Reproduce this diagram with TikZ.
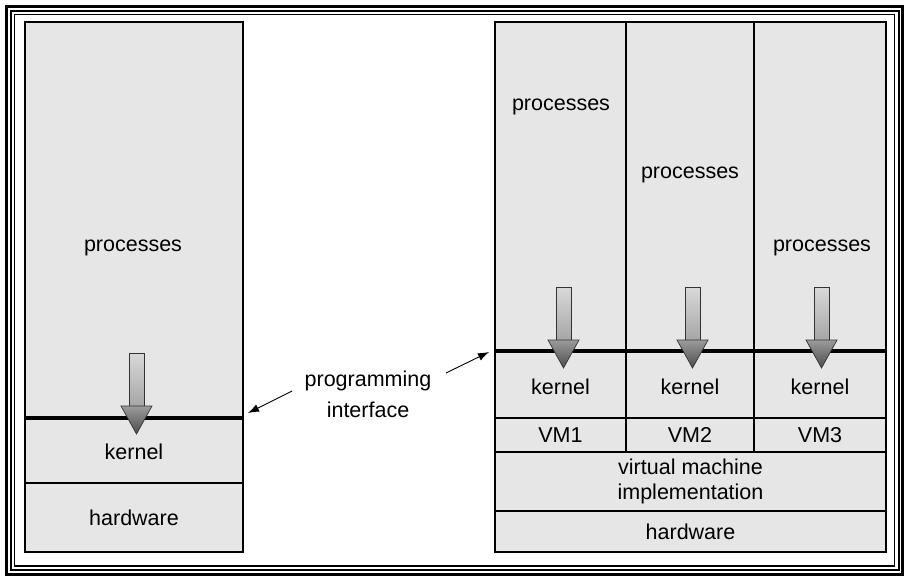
\documentclass[tikz,border=0pt]{standalone}
\usepackage{fontspec}
\setmainfont{Liberation Sans}
\usetikzlibrary{arrows.meta}
\tikzset{
  layer/.style={draw=black, line width=1.6pt, fill=boxgray, inner sep=0pt, outer sep=0pt, anchor=north west},
  lbl/.style={font=\fontsize{21.5}{31}\selectfont, align=center, inner sep=0pt},
  tightlbl/.style={lbl, font=\fontsize{21.5}{24.5}\selectfont},
  sepline/.style={line width=4pt, black},
  thin/.style={line width=0.9pt, -{Latex[length=11pt,width=8pt]}},
  bigarrow/.pic={
    \shade[top color=gray!30, bottom color=gray!70, draw=gray!40!black, line width=0.7pt]
      (-7.5,0) rectangle (7.5,53);
    \shade[top color=gray!78, bottom color=gray!60!black, draw=gray!40!black, line width=0.7pt]
      (-15.5,53) -- (15.5,53) -- (0,81) -- cycle;
  }
}
\definecolor{boxgray}{HTML}{E6E6E6}
\begin{document}
\begin{tikzpicture}[x=1pt,y=-1pt]
\useasboundingbox (0,0) rectangle (909,581);
\fill[white] (0,0) rectangle (909,581);
% frame
\draw[line width=3pt] (6.5,6.5) rectangle (902.5,574.5);
\draw[line width=2pt] (10.5,10.5) rectangle (898.5,570);
\draw[line width=1.6pt] (14.5,14.5) rectangle (894.5,566);

% left stack
\node[layer, minimum width=218pt, minimum height=396pt] (lproc) at (25,22) {};
\node[layer, minimum width=218pt, minimum height=65pt] (lkern) at (25,418) {};
\node[layer, minimum width=218pt, minimum height=69pt] (lhw) at (25,483) {};
\node[lbl] (lproct) at (133,248) {processes};
\node[lbl, yshift=-1pt] (lkernt) at (lkern.center) {kernel};
\node[lbl] (lhwt) at (lhw.center) {hardware};
\draw[sepline] (lproc.south west) -- (lproc.south east);

% right stack
\foreach \i/\x/\w in {1/495/131,2/626/128,3/754/132}{
  \node[layer, minimum width=\w pt, minimum height=329pt] (rproc\i) at (\x,22) {};
  \node[layer, minimum width=\w pt, minimum height=67pt] (rkern\i) at (\x,351) {};
  \node[layer, minimum width=\w pt, minimum height=34pt] (rvm\i) at (\x,418) {};
  \node[lbl, yshift=-2pt] (rkernt\i) at (rkern\i.center) {kernel};
  \node[lbl] (rvmt\i) at (rvm\i.center) {VM\i};
}
\node[layer, minimum width=391pt, minimum height=59pt] (rvmi) at (495,452) {};
\node[layer, minimum width=391pt, minimum height=41pt] (rhw) at (495,511) {};
\node[tightlbl] (rvmit) at (rvmi.center) {virtual machine\\implementation};
\node[lbl] (rhwt) at (rhw.center) {hardware};
\node[lbl] (rproct1) at (561,107) {processes};
\node[lbl] (rproct2) at (690,175) {processes};
\node[lbl] (rproct3) at (822,248) {processes};
\draw[sepline] (rproc1.south west) -- (rproc3.south east);

% big arrows
\pic at (136.5,353) {bigarrow};
\pic at (563.5,287) {bigarrow};
\pic at (692.5,287) {bigarrow};
\pic at (821.5,287) {bigarrow};

% programming interface
\node[lbl] (pi) at (368,394) {programming\\interface};
\coordinate (pl) at (292,391);
\coordinate (pr) at (446,373);
\coordinate (tl) at (248,413);
\coordinate (tr) at (489,352);
\draw[thin] (pl) -- (tl);
\draw[thin] (pr) -- (tr);
\end{tikzpicture}
\end{document}
